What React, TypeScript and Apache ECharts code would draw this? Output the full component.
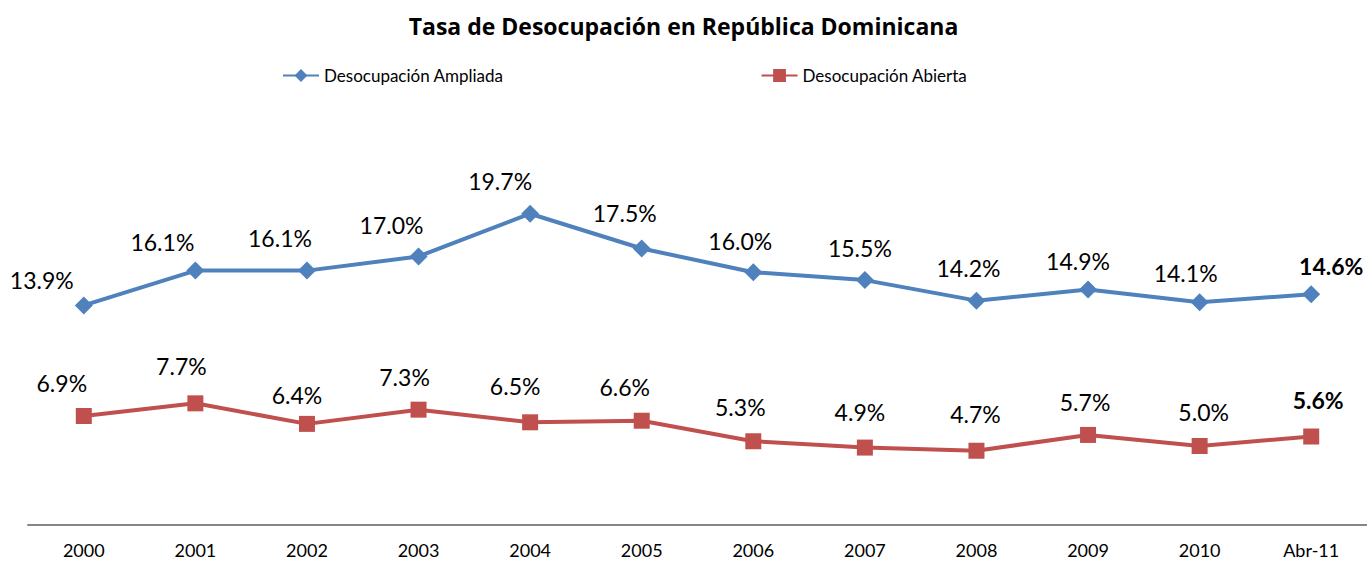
import React, { useEffect, useRef } from "react";
import * as echarts from "echarts";

const categories = ["2000", "2001", "2002", "2003", "2004", "2005", "2006", "2007", "2008", "2009", "2010", "Abr-11"];
const ampliada = [13.9, 16.1, 16.1, 17.0, 19.7, 17.5, 16.0, 15.5, 14.2, 14.9, 14.1, 14.6];
const abierta = [6.9, 7.7, 6.4, 7.3, 6.5, 6.6, 5.3, 4.9, 4.7, 5.7, 5.0, 5.6];

// label placement (layout only)
const ampliadaLabelOffsets = [[-42, -25], [-33, -29], [-27, -33], [-27, -31], [-30, -33], [-17, -36], [-13, -31], [-5, -32], [-8, -33], [-10, -29], [-14, -29], [20, -28]];
const abiertaLabelOffsets = [[-22, -33], [-14, -37], [-10, -29], [-14, -33], [-15, -36], [-17, -34], [-13, -34], [-5, -36], [-1, -37], [-3, -33], [4, -34], [7, -37]];

const FONT = "Lato, 'Open Sans', sans-serif";

function buildData(values: number[], offsets: number[][]) {
  return values.map((v, i) => ({
    value: v,
    label: {
      offset: offsets[i],
      fontWeight: i === values.length - 1 ? "bold" : "normal",
    },
  }));
}

export default function App() {
  const ref = useRef<HTMLDivElement>(null);
  useEffect(() => {
    if (!ref.current) return;
    const chart = echarts.init(ref.current, undefined, { renderer: "svg" });
    const labelBase = {
      show: true,
      position: "inside",
      color: "#000",
      fontSize: 23,
      fontFamily: FONT,
      formatter: (p: any) => p.value.toFixed(1) + "%",
    };
    chart.setOption({
      animation: false,
      backgroundColor: "#fff",
      title: {
        text: "Tasa de Desocupación en República Dominicana",
        left: "center",
        top: 9,
        textStyle: { fontFamily: "'Open Sans', Lato, sans-serif", fontSize: 23, fontWeight: "bold", color: "#000" },
      },
      legend: {
        left: 277,
        top: 62,
        itemGap: 257,
        itemWidth: 36,
        itemHeight: 16,
        itemTextGap: 3,
        textStyle: { fontFamily: FONT, fontSize: 17, color: "#000" },
        data: ["Desocupación Ampliada", "Desocupación Abierta"],
      },
      grid: { left: 28, right: 0, top: 130, bottom: 38 },
      xAxis: {
        type: "category",
        data: categories,
        boundaryGap: true,
        axisLine: { lineStyle: { color: "#868686", width: 2 } },
        axisTick: { show: false },
        axisLabel: { fontFamily: FONT, fontSize: 18, color: "#000", margin: 16 },
      },
      yAxis: {
        type: "value",
        min: 0,
        max: 25,
        show: false,
        splitLine: { show: false },
      },
      series: [
        {
          name: "Desocupación Ampliada",
          type: "line",
          data: buildData(ampliada, ampliadaLabelOffsets),
          symbol: "diamond",
          symbolSize: 18,
          lineStyle: { color: "#4F81BD", width: 4 },
          itemStyle: { color: "#4F81BD" },
          label: labelBase,
        },
        {
          name: "Desocupación Abierta",
          type: "line",
          data: buildData(abierta, abiertaLabelOffsets),
          symbol: "rect",
          symbolSize: 16,
          lineStyle: { color: "#C0504D", width: 4 },
          itemStyle: { color: "#C0504D" },
          label: labelBase,
        },
      ],
    });
    return () => chart.dispose();
  }, []);
  return <div ref={ref} style={{ position: "fixed", left: 0, top: 0, width: 1367, height: 563 }} />;
}
